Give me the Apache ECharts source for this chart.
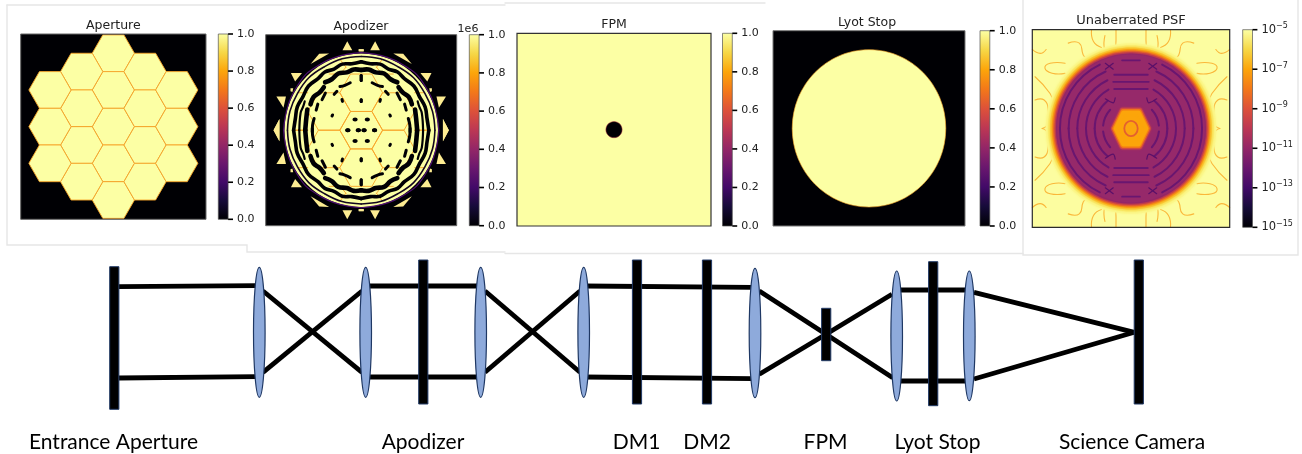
<!DOCTYPE html>
<html><head><meta charset="utf-8">
<style>html,body{margin:0;padding:0;background:#fff}#c{width:1302px;height:454px}</style>
<script src="https://cdn.jsdelivr.net/npm/echarts@6/dist/echarts.min.js"></script>
</head><body><div id="c"></div>
<script>
// ---------- data ----------
const panelTitles = ['Aperture','Apodizer','FPM','Lyot Stop','Unaberrated PSF'];
const linearTicks = [0,0.2,0.4,0.6,0.8,1];
const logExponents = [-15,-13,-11,-9,-7,-5];
const stationLabels = ['Entrance Aperture','Apodizer','DM1','DM2','FPM','Lyot Stop','Science Camera'];
const stationLabelX = [113.5,423,636.5,707,825.5,937.5,1132];
const infernoStops = ['#000004','#160b39','#420a68','#6a176e','#932667','#bc3754','#dd513a','#f37819','#fca50a','#f6d746','#fcffa4'];

// Aperture: hexagon segment centres (image units 0-100)
const apertureHexes = [[50,10.4],[50,30.2],[50,50],[50,69.8],[50,89.6],
  [32.9,20.3],[32.9,40.1],[32.9,59.9],[32.9,79.7],[67.1,20.3],[67.1,40.1],[67.1,59.9],[67.1,79.7],
  [15.8,30.2],[15.8,50],[15.8,69.8],[84.2,30.2],[84.2,50],[84.2,69.8]];

// Apodizer: one quadrant (dx,dy from centre) mirrored to the others
const apodTriangles = [
  [[-7.3,-46.6],[-9.8,-41.9],[-4.7,-41.9]],
  [[-26.5,-34.6],[-22,-40],[-16.8,-40.2]],
  [[-36.8,-29.9],[-31,-29.9],[-34.6,-25.5]],
  [[-44.4,-17.7],[-39.4,-17.7],[-40.7,-11.7]],
  [[-45.9,0],[-42.8,-5.8],[-42.8,5.8]],
  [[-37,-22],[-35.6,-22],[-36,-20],[-37,-20.4]],
  [[-1.3,-42.4],[1.3,-42.4],[1.3,-41.3],[-1.3,-41.3]]];
const apodHexOffsets = [[0,0],[0,-19.6],[0,19.6],[-16.8,-9.8],[-16.8,9.8],[16.8,-9.8],[16.8,9.8]];
const apodSpokes = [[[-16.8,-29.4],[-11,-29.4],[-8,-33]],[[-28,-19.6],[-33,-19.6]],[[-8,-33],[-11,-37]],[[-28,0],[-36,0]]];
// polar arcs: [angle from up towards left, radius]
const apodRingOuter = [[0,40.6],[30,40.6],[60,40.6],[90,40.6]];
const apodRingThin = [[0,38.6],[15,38.7],[30,38.4],[45,38.8],[60,38.5],[75,38.6],[90,38.6]];
const apodRingA = [[0,35.8],[8,35.1],[16,36],[24,35],[32,35.9],[40,35.2],[50,36],[60,35.2],[70,35.6],[80,35],[90,35.4]];
const apodRingB1 = [[0,31.5],[7,32],[14,31.2],[22,32],[30,30.8],[37,31.4]];
const apodRingB2 = [[41,29.8],[48,29.4],[55,30.4],[63,29.8]];
const apodRingB3 = [[69,30.2],[78,29.4],[84,29.2],[90,29.3]];
const apodRingC = [[63,33.2],[68,32.8],[74,33],[90,32.4]];
const apodDashes = [[[13,25.5],[20,25],[26,25.4]],[[44,27],[52,26]],[[59,26.5],[66,25.8]],[[76,25.4],[84,25.6],[92,25.6]],[[32,24],[37,23.5]]];
const apodDrops = [[[0,26],[0,28.6]],[[0,15],[0,16]],[[32,19],[33,18]],[[62,17],[64,17]]];
const apodDots = [[-7,0],[-1.5,0],[-3.2,-5.6]];

// Lyot stop and FPM spot
const fpmSpot = [50,50,4.2];
const lyotDisc = [50,50,40,40.3];

// PSF
const psfHaloRadii = [43.2,42,41,40.1,39.4,38.7,38];
const psfHaloColors = ['#fbf88e','#f9ec6c','#f8cd37','#fba80d','#f1711f','#cf4446','#932667'];
const psfBase = '#96296a';
const psfRingRadii = [36,31.6,27.2,22.8,18.4,14.2];
const psfRingFrom = [26,24,26,30,40,48];
const psfRingTo = [90,90,90,90,90,84];
const psfBars = [[-34.5,-4.5,4.5],[-27.2,-8.5,8.5],[-23.6,-9,9],[-20,-8.5,8.5],[34.5,-4.5,4.5],[27.2,-8.5,8.5],[23.6,-9,9],[20,-8.5,8.5]];
const psfCross = [[[-13,-33],[-9,-30]],[[-9,-33],[-13,-30]],[[-13,-15],[-9,-13],[-8,-15.5]]];
const psfCoreRadii = [9,8.3,7.6];
const psfCoreColors = ['#c8404d','#f37819','#fca50a'];
const psfCoreRing = [3.4,3.9];
const psfWisps = [
  [[-13.2,-47],[-13.4,-40],[-11,-37.5]],
  [[-7.6,-50],[-7.8,-40],[-8.4,-38]],
  [[-33.4,-33],[-41,-33],[-43.6,-30.5],[-40,-28],[-33.4,-27.9]],
  [[-48.6,-14.4],[-44,-14.4],[-41.9,-9],[-42.4,-2],[-45,0]],
  [[-48.6,-26.2],[-41,-17.7],[-39.4,-12.7]],
  [[-31.8,-43.2],[-26.2,-43.2],[-24.2,-37.2],[-22.5,-35.5]],
  [[-50,-40],[-46,-38],[-43,-40]],
  [[-20,-50],[-19,-44],[-15,-41]]];

// Optical train
const plateX = [114.3,423.3,637,707,826.2,933.2,1138.8];
const plateTop = [266.7,260,260,260,308.3,261.7,260];
const plateBottom = [409.3,404,404,404,360.7,405.7,404];
const lensX = [259.3,365.7,480.7,583.7,755,896.7,969.3];
const lensTop = [267.3,267.3,267.3,267.3,268.3,271,271];
const lensBottom = [397.3,397.3,397.3,397.3,397.7,401,400.7];
const beamSegments = [
  [[119,286.7],[256,285.7]],[[119,378],[256,376.7]],
  [[263,291],[362,372.3]],[[263,372.3],[362,291]],
  [[366,286],[477,286]],[[366,377],[477,377]],
  [[485,291],[580,372.3]],[[485,372.3],[580,291]],
  [[584,286],[752,287.3]],[[584,377],[752,378.7]],
  [[759.3,291],[826,334.3]],[[759.3,374.3],[826,334.3]],
  [[826,334.3],[892,294.3]],[[826,334.3],[892.7,377.7]],
  [[898,290],[968,290]],[[898,381],[968,381]],
  [[974,292.3],[1134.3,332.3]],[[974,379],[1134.3,332.3]]];
const cardEdges = [
  [[7,5],[7,245],[247,245],[247,252],[505,252]],
  [[7,5],[505,5]],[[505,3],[765,3]],
  [[505,253.5],[1023,253.5]],
  [[1023,0],[1023,255],[1298,255],[1298,0]]];

// ---------- layout ----------
const W=1302,H=454;
const imageBoxes = [[20.7,34,185.3,185.3],[265.7,34.7,191,191],[517,33.3,194,192.7],[773,30.7,192,195.3],[1032.3,29.7,197.4,197.6]];
// colour-bar grids: the strip is 2/3 of the width, the tick marks the last 1/3
const barBoxes = [[218.3,34,14.7,185.3],[469.3,34.7,14.7,191],[722.5,33.3,14.7,192.7],[980,30.7,14.7,195.3],[1242.7,29.7,14.7,197.6]];
const titleAt = [[113.3,26],[361,26.7],[614,24.3],[867,22.7],[1131,21]];
const yellow='#fcffa4', black='#000004', hexEdge='#f7a428';

// ---------- shape helpers ----------
const dom=[[0,0],[100,0],[100,100],[0,100]];
const mirrors=[[1,1],[-1,1],[1,-1],[-1,-1]];
const at=(o,sx,sy)=>[50+o[0]*sx,50+o[1]*sy];
const polar=(p,sx,sy)=>{const a=p[0]*Math.PI/180;return [50-sx*p[1]*Math.sin(a),50-sy*p[1]*Math.cos(a)];};
function hexPts(c,r,h){return [[c[0]-r,c[1]],[c[0]-r/2,c[1]-h],[c[0]+r/2,c[1]-h],[c[0]+r,c[1]],[c[0]+r/2,c[1]+h],[c[0]-r/2,c[1]+h]];}
const polarLine=(pts,w,col,out,smooth)=>mirrors.forEach(m=>out.push({k:'line',pts:pts.map(p=>polar(p,m[0],m[1])),w,col,smooth:smooth==null?0.4:smooth}));

function apertureShapes(){
  const s=[{k:'poly',pts:dom,fill:black}];
  apertureHexes.forEach(c=>s.push({k:'poly',pts:hexPts(c,11.4,9.9),fill:yellow,stroke:hexEdge,lw:0.9}));
  s.push({k:'poly',pts:dom,fill:'none',stroke:'#666',lw:1});
  return s;
}
function apodizerShapes(){
  const s=[{k:'poly',pts:dom,fill:black}];
  mirrors.forEach(m=>apodTriangles.forEach(t=>s.push({k:'poly',pts:t.map(p=>at(p,m[0],m[1])),fill:'#fdec92'})));
  s.push({k:'disc',c:[50,50],rx:41,ry:41,fill:black});
  s.push({k:'disc',c:[50,50],rx:40.2,ry:40.2,fill:yellow});
  apodHexOffsets.forEach(o=>s.push({k:'poly',pts:hexPts(at(o,1,1),11.2,9.8),fill:'none',stroke:hexEdge,lw:0.9}));
  mirrors.forEach(m=>apodSpokes.forEach(l=>s.push({k:'line',pts:l.map(p=>at(p,m[0],m[1])),w:0.9,col:hexEdge})));
  polarLine(apodRingOuter,1.2,'#4d1070',s,0.5);
  polarLine(apodRingThin,1.6,'#12061f',s);
  polarLine(apodRingA,3.6,black,s);
  [apodRingB1,apodRingB2,apodRingB3].forEach(r=>polarLine(r,4.6,black,s));
  polarLine(apodRingC,2.2,black,s);
  apodDashes.forEach(r=>polarLine(r,3,black,s));
  apodDrops.forEach(r=>polarLine(r,3,black,s,0));
  mirrors.forEach(m=>apodDots.forEach(o=>{const c=at(o,m[0],m[1]);s.push({k:'disc',c,rx:1.35,ry:1.05,fill:black});}));
  s.push({k:'poly',pts:dom,fill:'none',stroke:'#666',lw:1});
  return s;
}
function fpmShapes(){
  return [{k:'poly',pts:dom,fill:yellow},
    {k:'disc',c:[fpmSpot[0],fpmSpot[1]],rx:fpmSpot[2],ry:fpmSpot[2],fill:black,stroke:'#c0404f',lw:0.5},
    {k:'poly',pts:dom,fill:'none',stroke:'#333',lw:1.2}];
}
function lyotShapes(){
  return [{k:'poly',pts:dom,fill:black},
    {k:'disc',c:[lyotDisc[0],lyotDisc[1]],rx:lyotDisc[2],ry:lyotDisc[3],fill:yellow,stroke:'#f7a428',lw:0.6},
    {k:'poly',pts:dom,fill:'none',stroke:'#777',lw:1}];
}
function psfShapes(){
  const s=[{k:'poly',pts:dom,fill:'#fcfda0'}];
  mirrors.forEach(m=>psfWisps.forEach(l=>s.push({k:'line',pts:l.map(p=>at(p,m[0],m[1])),w:1.1,col:'#fab73a',smooth:0.5})));
  psfHaloRadii.forEach((r,i)=>s.push({k:'disc',c:[50,50],rx:r,ry:r,fill:psfHaloColors[i],blur:3}));
  s.push({k:'disc',c:[50,50],rx:37.4,ry:37.4,fill:psfBase,blur:2});
  psfRingRadii.forEach((r,i)=>{
    mirrors.forEach(m=>s.push({k:'arc',r,from:psfRingFrom[i],to:psfRingTo[i],m,w:2,col:'#691670'}));
  });
  psfBars.forEach(b=>s.push({k:'line',pts:[[50+b[1],50+b[0]],[50+b[2],50+b[0]]],w:1.8,col:'#691670',smooth:0}));
  mirrors.forEach(m=>psfCross.forEach(l=>s.push({k:'line',pts:l.map(p=>at(p,m[0],m[1])),w:1.2,col:'#5a1069',smooth:0.3})));
  psfCoreRadii.forEach((r,i)=>s.push({k:'poly',pts:hexPts([50,50],r*1.02,r*1.05),fill:psfCoreColors[i],stroke:psfCoreColors[i],lw:4,join:'round',blur:2}));
  s.push({k:'disc',c:[50,50],rx:psfCoreRing[0],ry:psfCoreRing[1],fill:'#fba50f',stroke:'#e4602f',lw:1.8});
  s.push({k:'poly',pts:dom,fill:'none',stroke:'#2b2b2b',lw:1.2});
  return s;
}
function diagramShapes(){
  const s=[];
  cardEdges.forEach(p=>s.push({k:'line',pts:p,w:1.4,col:'#e6e6e6',smooth:0}));
  beamSegments.forEach(p=>s.push({k:'line',pts:p,w:4.8,col:'#000',smooth:0,cap:'butt'}));
  plateX.forEach((x,i)=>s.push({k:'poly',pts:[[x-4.6,plateTop[i]],[x+4.6,plateTop[i]],[x+4.6,plateBottom[i]],[x-4.6,plateBottom[i]]],fill:'#000',stroke:'#223a66',lw:1}));
  lensX.forEach((x,i)=>s.push({k:'disc',c:[x,(lensTop[i]+lensBottom[i])/2],rx:5.8,ry:(lensBottom[i]-lensTop[i])/2,fill:'#8eaadb',stroke:'#1f3864',lw:1.2}));
  return s;
}
function draw(sh,api){
  if(sh.k==='poly'){const st={fill:sh.fill,stroke:sh.stroke||null,lineWidth:sh.lw||0,lineJoin:sh.join||'miter'};
    if(sh.blur){st.shadowBlur=sh.blur;st.shadowColor=sh.fill;}
    return {type:'polygon',shape:{points:sh.pts.map(p=>api.coord(p))},style:st};}
  if(sh.k==='line') return {type:'polyline',shape:{points:sh.pts.map(p=>api.coord(p)),smooth:sh.smooth||0},style:{fill:null,stroke:sh.col,lineWidth:sh.w,lineCap:sh.cap||'round'}};
  if(sh.k==='disc'){const c=api.coord(sh.c),z=api.size([sh.rx,sh.ry]);
    const st={fill:sh.fill,stroke:sh.stroke||null,lineWidth:sh.lw||0};
    if(sh.blur){st.shadowBlur=sh.blur;st.shadowColor=sh.fill;}
    return {type:'ellipse',shape:{cx:c[0],cy:c[1],rx:z[0],ry:z[1]},style:st};}
  if(sh.k==='arc'){const c=api.coord([50,50]),r=api.size([sh.r,0])[0],d=Math.PI/180;
    const ang=t=>Math.atan2(-sh.m[1]*Math.cos(t*d),-sh.m[0]*Math.sin(t*d));
    const cw=sh.m[0]*sh.m[1]<=0;
    return {type:'arc',shape:{cx:c[0],cy:c[1],r,startAngle:ang(sh.from),endAngle:ang(sh.to),clockwise:cw},style:{fill:null,stroke:sh.col,lineWidth:sh.w,lineCap:'round'}};}
}
function shapeSeries(idx,shapes){
  return {type:'custom',coordinateSystem:'cartesian2d',xAxisIndex:idx,yAxisIndex:idx,silent:true,animation:false,clip:false,
    data:shapes.map(()=>[0,0]),renderItem:(p,api)=>draw(shapes[p.dataIndex],api),z:2};
}

// ---------- option ----------
const grids=[{left:0,top:0,width:W,height:H,show:false}], xAxes=[{type:'value',gridIndex:0,min:0,max:W,show:false}], yAxes=[{type:'value',gridIndex:0,min:0,max:H,inverse:true,show:false}];
const series=[shapeSeries(0,diagramShapes())];
const panelShapes=[apertureShapes(),apodizerShapes(),fpmShapes(),lyotShapes(),psfShapes()];
const stops=infernoStops.map((c,i)=>({offset:1-i/(infernoStops.length-1),color:c}));
imageBoxes.forEach((b,i)=>{
  const g=grids.length;
  grids.push({left:b[0],top:b[1],width:b[2],height:b[3],show:false});
  xAxes.push({type:'value',gridIndex:g,min:0,max:100,show:false});
  yAxes.push({type:'value',gridIndex:g,min:0,max:100,inverse:true,show:false});
  series.push(shapeSeries(g,panelShapes[i]));
});
barBoxes.forEach((b,i)=>{
  const g=grids.length, isLog=i===4;
  // the log bar's axis counts decades above its lowest exponent, so ticks start from 0
  const tickVals=isLog?logExponents.map(e=>e-logExponents[0]):linearTicks;
  const lo=tickVals[0], hi=tickVals[tickVals.length-1];
  grids.push({left:b[0],top:b[1],width:b[2],height:b[3],show:false});
  xAxes.push({type:'value',gridIndex:g,min:0,max:1.5,show:false});
  yAxes.push({type:'value',gridIndex:g,min:lo,max:hi,position:'right',interval:isLog?2:0.2,splitLine:{show:false},
    axisLine:{show:false},axisTick:{show:false},
    axisLabel:{show:true,margin:4,fontFamily:'DejaVu Sans',fontSize:11,color:'#222',
      formatter:isLog?(v=>'{b|10}{s|\u2212'+Math.abs(Math.round(v)+logExponents[0])+'}'):(v=>v.toFixed(1)),
      rich:{b:{fontFamily:'DejaVu Sans',fontSize:11.5,color:'#222'},s:{fontFamily:'DejaVu Sans',fontSize:8,color:'#222',padding:[0,0,7,0]}}}});
  const grad=new echarts.graphic.LinearGradient(0,0,0,1,stops);
  const box=[[0,hi],[1,hi],[1,lo],[0,lo]];
  const marks=[{k:'poly',pts:box,fill:grad},{k:'poly',pts:box,fill:'none',stroke:'#555',lw:0.7}];
  tickVals.forEach(v=>marks.push({k:'line',pts:[[1,v],[1.5,v]],w:1.6,col:'#000',smooth:0,cap:'butt'}));
  series.push(shapeSeries(g,marks));
});
const titles=panelTitles.map((t,i)=>({text:t,left:titleAt[i][0],top:titleAt[i][1],textAlign:'center',textVerticalAlign:'middle',padding:0,
  textStyle:{fontFamily:'DejaVu Sans',fontSize:i===4?13:12.5,fontWeight:'normal',color:'#222'}}));
titles.push({text:'1e6',left:468,top:29,textAlign:'center',textVerticalAlign:'middle',padding:0,textStyle:{fontFamily:'DejaVu Sans',fontSize:11,fontWeight:'normal',color:'#222'}});
stationLabels.forEach((t,i)=>titles.push({text:t,left:stationLabelX[i],top:442,textAlign:'center',textVerticalAlign:'middle',padding:0,
  textStyle:{fontFamily:'Lato',fontSize:21,fontWeight:'normal',color:'#000'}}));
const chart=echarts.init(document.getElementById('c'),null,{renderer:'canvas'});
chart.setOption({animation:false,backgroundColor:'#fff',title:titles,grid:grids,xAxis:xAxes,yAxis:yAxes,series});
</script></body></html>
